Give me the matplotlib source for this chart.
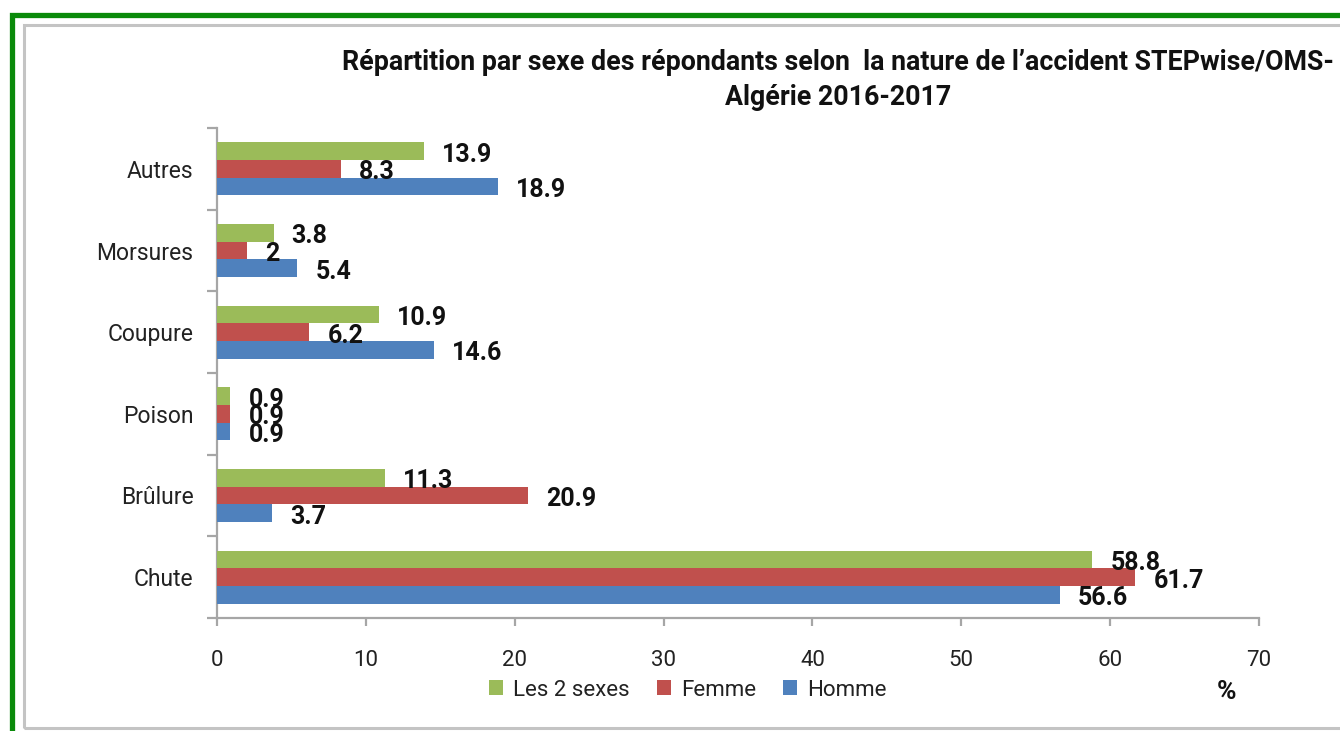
import matplotlib
matplotlib.use("Agg")
import matplotlib.pyplot as plt
import numpy as np
from matplotlib.patches import Rectangle

categories = ["Chute", "Brûlure", "Poison", "Coupure", "Morsures", "Autres"]
les2 = [58.8, 11.3, 0.9, 10.9, 3.8, 13.9]
femme = [61.7, 20.9, 0.9, 6.2, 2, 8.3]
homme = [56.6, 3.7, 0.9, 14.6, 5.4, 18.9]
series_names = ["Les 2 sexes", "Femme", "Homme"]
colors = ["#9BBB59", "#C0504D", "#4F81BD"]
xticks = [0, 10, 20, 30, 40, 50, 60, 70]
title = "Répartition par sexe des répondants selon  la nature de l\u2019accident STEPwise/OMS-\nAlgérie 2016-2017"

plt.rcParams['font.family'] = ['Roboto', 'DejaVu Sans']

W, H = 1340, 731
fig = plt.figure(figsize=(W / 100, H / 100), dpi=100)
fig.patch.set_facecolor("white")

# borders
fig.patches.append(Rectangle((12.5 / W, -0.05), 1.2, 1 - 14.5 / H + 0.05,
                             transform=fig.transFigure, fill=False,
                             edgecolor="#0A8A0A", linewidth=3.8, zorder=0))
fig.patches.append(Rectangle((23.5 / W, 1 - 728 / H), 1.2, (728 - 25) / H,
                             transform=fig.transFigure, fill=False,
                             edgecolor="#C4C4C4", linewidth=2.2, zorder=0))

ax = fig.add_axes([217 / W, 1 - 618 / H, (1259 - 217) / W, (618 - 128) / H])
ax.set_facecolor("none")

y = np.arange(len(categories))
h = 0.215
offsets = [h, 0.0, -h]
data = [les2, femme, homme]
for vals, off, col, name in zip(data, offsets, colors, series_names):
    bars = ax.barh(y + off, vals, height=h, color=col, label=name, zorder=3)
    for b, v in zip(bars, vals):
        ax.annotate(f"{v:g}", xy=(b.get_width(), b.get_y() + b.get_height() / 2),
                    xytext=(13, -2.5), textcoords="offset points",
                    ha="left", va="center", fontsize=18, fontweight="bold",
                    color="#111111", zorder=5)

ax.set_xlim(0, 70)
ax.set_ylim(-0.5, len(categories) - 0.5)
ax.set_xticks(xticks)
ax.set_xticklabels([str(t) for t in xticks], fontsize=16, color="#222222")
ax.set_yticks(np.arange(-0.5, len(categories), 1.0))
ax.set_yticklabels([])
ax.set_yticks(y, minor=True)
ax.set_yticklabels(categories, minor=True, fontsize=16.5, color="#222222")

for s in ["top", "right"]:
    ax.spines[s].set_visible(False)
for s in ["left", "bottom"]:
    ax.spines[s].set_color("#A6A6A6")
    ax.spines[s].set_linewidth(1.6)

ax.tick_params(axis="x", which="major", direction="out", length=6, width=1.6,
               color="#A6A6A6", pad=17)
ax.tick_params(axis="y", which="major", direction="out", length=7, width=1.6,
               color="#A6A6A6")
ax.tick_params(axis="y", which="minor", length=0, pad=17)

fig.text(838 / W, 1 - 80 / H, title, ha="center", va="center", fontsize=19.3,
         fontweight="bold", color="#111111", linespacing=1.4)

handles, labels = ax.get_legend_handles_labels()
leg = fig.legend(handles, labels, loc="center", bbox_to_anchor=(688 / W, 1 - 690 / H),
                 ncol=3, frameon=False, fontsize=16, handlelength=0.65,
                 handleheight=0.65, handletextpad=0.45, columnspacing=1.2,
                 borderaxespad=0, borderpad=0)
for t in leg.get_texts():
    t.set_color("#222222")

fig.text(1226 / W, 1 - 692 / H, "%", ha="center", va="center", fontsize=19,
         fontweight="bold", color="#111111")

fig.savefig("out.png", dpi=100, facecolor="white")
